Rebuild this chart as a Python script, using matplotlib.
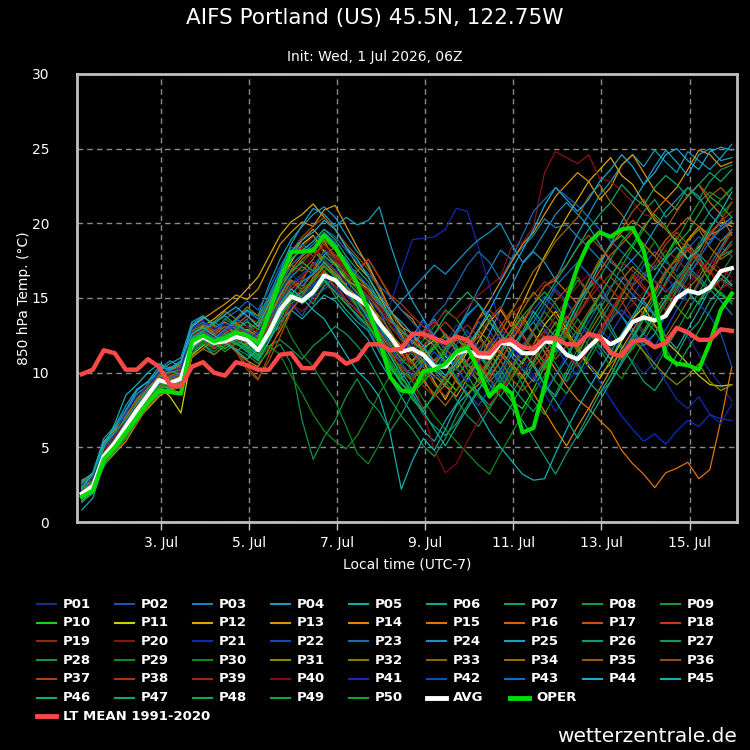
"""AIFS ensemble plume, 850 hPa temperature, Portland (US)."""
import matplotlib
matplotlib.use("Agg")
import matplotlib.pyplot as plt
import matplotlib.dates as mdates
from matplotlib.lines import Line2D
from matplotlib.ticker import FuncFormatter
import pandas as pd

# 6-hourly steps, local time (UTC-7)
TIMES = pd.date_range("2026-07-01 05:00", periods=60, freq="6h")

AVG = [1.9, 2.4, 4.4, 5.3, 6.4, 7.5, 8.5, 9.5, 9.3, 9.6,
       11.9, 12.4, 12.0, 12.1, 12.4, 12.2, 11.5, 12.7, 14.2, 15.1,
       14.8, 15.4, 16.5, 16.2, 15.4, 15.0, 14.4, 13.3, 12.4, 11.4,
       11.6, 11.2, 10.4, 10.4, 11.3, 11.5, 11.1, 11.0, 12.0, 11.9,
       11.3, 11.3, 12.1, 12.0, 11.2, 10.9, 11.7, 12.4, 11.9, 12.3,
       13.4, 13.7, 13.5, 13.8, 15.0, 15.5, 15.3, 15.7, 16.8, 17.0]

OPER = [1.7, 2.1, 4.2, 5.0, 6.0, 7.0, 8.0, 8.8, 8.7, 8.6,
        12.1, 12.5, 12.1, 12.3, 12.7, 12.5, 12.0, 14.0, 16.2, 18.1,
        18.1, 18.2, 19.2, 18.4, 17.2, 16.0, 14.2, 12.2, 9.7, 8.8,
        8.7, 10.1, 10.2, 10.6, 11.4, 11.7, 10.2, 8.4, 9.2, 8.6,
        6.0, 6.3, 9.1, 12.2, 14.9, 17.1, 18.7, 19.4, 19.1, 19.6,
        19.7, 18.2, 14.9, 11.1, 10.6, 10.5, 10.2, 12.0, 14.2, 15.3]

LT_MEAN = [9.9, 10.2, 11.5, 11.3, 10.2, 10.2, 10.9, 10.4, 9.2, 9.1,
           10.4, 10.7, 10.0, 9.8, 10.7, 10.5, 10.2, 10.2, 11.2, 11.3,
           10.3, 10.3, 11.3, 11.2, 10.6, 10.9, 11.9, 11.9, 11.5, 11.6,
           12.6, 12.6, 12.3, 12.0, 12.4, 12.2, 11.3, 11.3, 12.1, 12.2,
           11.7, 11.6, 12.3, 12.3, 11.9, 11.9, 12.6, 12.4, 11.3, 11.1,
           12.1, 12.2, 11.7, 12.0, 13.0, 12.7, 12.2, 12.2, 12.9, 12.8]

P01 = [2.2, 2.8, 4.6, 5.4, 6.9, 7.8, 8.6, 9.9, 9.4, 10.1,
       12.3, 12.6, 12.2, 12.8, 12.1, 11.9, 12.4, 13.5, 15.2, 15.8,
       16.4, 15.9, 17.3, 16.8, 15.2, 14.6, 13.9, 13.1, 12.2, 11.0,
       10.6, 11.8, 12.4, 11.9, 13.2, 12.8, 11.4, 10.3, 9.6, 10.8,
       11.9, 12.6, 11.3, 10.2, 9.4, 10.1, 11.6, 12.9, 12.2, 11.5,
       10.8, 9.9, 10.7, 11.8, 13.1, 12.4, 11.2, 10.1, 9.2, 8.1]
P02 = [1.8, 2.3, 4.1, 5.6, 6.2, 7.3, 8.9, 9.2, 9.8, 9.4,
       11.6, 12.1, 12.9, 12.4, 13.1, 12.6, 11.8, 12.2, 13.9, 14.6,
       13.8, 15.1, 15.6, 16.2, 14.8, 13.7, 12.9, 11.6, 10.4, 9.2,
       8.6, 9.8, 10.9, 11.6, 10.8, 12.2, 13.4, 12.8, 11.6, 12.4,
       13.6, 14.2, 15.1, 14.3, 13.2, 12.1, 13.4, 14.6, 15.8, 16.4,
       15.9, 17.2, 18.1, 17.4, 16.8, 18.3, 19.1, 18.6, 19.8, 20.4]
P03 = [2.5, 3.1, 5.2, 6.1, 7.2, 8.1, 9.3, 9.8, 10.2, 9.9,
       12.8, 13.1, 12.6, 13.4, 12.9, 13.6, 12.2, 14.1, 15.8, 17.2,
       17.9, 18.6, 19.4, 18.7, 17.2, 16.1, 15.4, 14.2, 12.6, 11.8,
       12.4, 13.6, 12.1, 11.2, 12.8, 14.1, 15.6, 16.9, 18.2, 17.6,
       18.4, 19.2, 20.3, 19.7, 19.9, 19.1, 18.4, 17.6, 16.8, 16.1,
       15.2, 14.6, 13.8, 14.9, 16.2, 17.1, 16.4, 15.6, 14.8, 13.9]
P04 = [2.0, 2.6, 4.8, 5.9, 7.4, 8.6, 9.1, 10.2, 10.8, 10.4,
       13.2, 13.8, 13.1, 12.7, 13.5, 14.2, 13.8, 15.9, 17.6, 18.9,
       19.8, 20.6, 21.1, 20.4, 19.2, 18.1, 17.3, 15.6, 14.1, 13.2,
       11.9, 12.8, 13.6, 12.4, 11.6, 10.4, 11.2, 12.6, 14.2, 15.8,
       17.3, 18.1, 17.4, 16.2, 17.8, 19.3, 20.6, 21.9, 22.8, 23.9,
       24.6, 23.8, 24.9, 24.1, 23.4, 24.8, 24.2, 23.6, 24.4, 25.3]
P05 = [0.8, 1.6, 3.9, 5.1, 6.0, 7.1, 8.2, 9.0, 9.1, 9.3,
       11.4, 11.9, 11.2, 11.8, 12.3, 11.6, 10.9, 12.1, 13.4, 14.2,
       13.6, 14.4, 15.2, 14.8, 13.9, 13.1, 12.2, 10.8, 9.6, 8.4,
       7.2, 6.1, 5.4, 6.8, 7.9, 9.2, 8.6, 7.8, 8.9, 10.2,
       11.4, 10.6, 9.2, 8.4, 9.8, 11.2, 12.6, 11.8, 10.9, 12.3,
       13.6, 14.8, 13.9, 12.4, 11.6, 12.9, 14.2, 15.6, 16.3, 15.8]
P06 = [1.4, 2.1, 4.3, 5.2, 6.8, 7.9, 8.8, 9.6, 9.2, 9.8,
       12.1, 12.8, 12.4, 12.0, 12.6, 12.9, 12.1, 13.6, 15.1, 16.4,
       17.1, 16.6, 17.8, 17.2, 16.1, 15.3, 14.6, 13.2, 11.4, 10.1,
       8.9, 7.6, 8.4, 9.6, 10.8, 11.9, 10.6, 9.4, 10.2, 11.6,
       12.8, 14.1, 13.2, 12.4, 11.1, 12.6, 13.9, 15.2, 14.6, 13.8,
       12.9, 11.8, 12.6, 14.1, 15.6, 16.8, 17.9, 17.2, 18.4, 19.6]
P07 = [2.4, 2.9, 4.2, 5.0, 6.1, 7.0, 8.1, 8.9, 9.1, 9.5,
       11.8, 12.2, 11.6, 12.1, 11.4, 12.0, 11.2, 12.4, 13.1, 14.6,
       15.2, 15.8, 16.4, 15.1, 14.2, 13.4, 12.8, 11.4, 10.2, 9.6,
       10.4, 11.2, 10.1, 9.2, 10.6, 11.8, 12.6, 11.4, 10.2, 9.1,
       8.2, 7.4, 8.6, 9.8, 10.9, 12.4, 13.8, 14.6, 13.1, 11.8,
       10.6, 9.4, 8.8, 9.9, 11.2, 12.6, 13.4, 14.8, 15.6, 16.9]
P08 = [1.6, 2.2, 4.4, 5.3, 6.3, 7.4, 8.3, 9.2, 9.6, 9.2,
       12.2, 12.6, 11.9, 12.4, 12.8, 12.3, 11.6, 11.8, 12.2, 11.6,
       10.9, 11.8, 12.4, 13.1, 12.6, 11.8, 10.9, 9.6, 8.2, 7.1,
       6.2, 5.1, 4.4, 5.6, 7.1, 8.4, 9.6, 10.8, 9.7, 8.6,
       9.8, 11.2, 12.6, 13.8, 14.9, 16.2, 15.4, 14.1, 12.8, 11.6,
       12.4, 13.9, 15.1, 16.6, 17.8, 18.9, 19.6, 20.8, 21.6, 22.4]
P09 = [2.1, 2.7, 4.9, 5.8, 6.6, 7.7, 8.7, 9.4, 9.9, 10.3,
       12.6, 13.2, 12.8, 13.6, 13.1, 12.4, 11.9, 13.2, 14.8, 16.1,
       15.6, 16.9, 18.2, 17.6, 16.4, 15.2, 14.1, 12.9, 11.6, 10.6,
       11.4, 12.2, 13.1, 14.2, 13.6, 12.4, 11.2, 10.1, 9.4, 10.6,
       9.2, 8.1, 7.2, 8.6, 10.1, 11.6, 12.9, 14.2, 15.6, 17.1,
       18.4, 19.6, 18.8, 17.6, 18.9, 20.2, 21.4, 22.1, 21.6, 22.3]
P10 = [1.9, 2.5, 4.0, 5.1, 6.4, 7.2, 8.4, 9.1, 9.0, 9.4,
       11.7, 12.3, 12.1, 11.6, 12.2, 11.8, 11.1, 12.6, 14.1, 15.3,
       14.9, 15.6, 16.8, 16.1, 15.4, 14.6, 13.8, 12.1, 10.4, 9.3,
       8.6, 9.4, 10.2, 9.6, 8.8, 9.9, 11.2, 10.4, 9.2, 8.1,
       7.6, 8.9, 10.4, 11.9, 13.1, 14.6, 16.2, 17.4, 18.6, 19.2,
       18.4, 17.6, 16.9, 17.8, 19.1, 18.2, 17.4, 16.1, 15.2, 14.8]
P11 = [2.6, 3.0, 4.7, 5.8, 6.9, 7.6, 8.8, 9.1, 8.4, 7.3,
       11.2, 11.8, 12.4, 13.1, 12.6, 12.9, 12.4, 14.2, 16.1, 17.4,
       18.6, 19.2, 18.1, 17.3, 16.2, 15.8, 14.9, 13.6, 12.1, 11.2,
       10.8, 11.6, 12.2, 11.1, 10.2, 11.4, 12.8, 13.9, 12.6, 11.4,
       10.6, 11.9, 13.2, 14.1, 12.9, 11.6, 10.4, 9.6, 10.8, 12.1,
       13.6, 14.4, 13.2, 12.1, 11.4, 10.6, 9.8, 9.2, 9.1, 9.2]
P12 = [2.3, 2.8, 4.3, 5.0, 5.9, 6.8, 7.6, 8.4, 8.9, 9.1,
       12.4, 13.1, 13.6, 14.2, 14.8, 15.6, 16.4, 17.8, 19.2, 20.1,
       20.6, 21.3, 20.4, 19.6, 18.4, 17.2, 16.4, 15.1, 13.8, 12.4,
       11.6, 10.8, 9.4, 8.2, 9.6, 10.8, 12.1, 13.4, 14.2, 13.1,
       14.6, 16.2, 17.8, 19.1, 20.4, 21.6, 22.8, 23.6, 24.4, 23.2,
       22.6, 21.4, 20.2, 19.6, 18.8, 17.6, 18.4, 19.2, 20.1, 19.8]
P13 = [1.7, 2.4, 4.6, 5.7, 6.6, 7.9, 9.0, 9.7, 10.1, 10.6,
       13.1, 13.6, 14.1, 14.6, 15.2, 14.9, 15.6, 17.1, 18.6, 19.4,
       20.1, 19.8, 20.9, 21.2, 19.8, 18.4, 17.1, 15.8, 14.2, 13.1,
       12.6, 11.4, 10.2, 9.6, 10.9, 12.2, 13.6, 14.8, 16.1, 17.4,
       18.6, 19.4, 20.6, 21.8, 22.6, 23.4, 22.8, 21.6, 22.4, 23.9,
       24.6, 23.4, 22.2, 21.6, 22.4, 23.6, 24.9, 24.6, 23.8, 24.1]
P14 = [2.0, 2.2, 3.8, 4.6, 5.4, 6.6, 7.9, 8.8, 9.6, 9.8,
       12.0, 12.4, 11.8, 12.6, 13.2, 13.8, 13.1, 14.6, 16.2, 17.8,
       18.9, 19.6, 18.8, 17.6, 16.8, 16.1, 15.6, 14.8, 13.6, 12.6,
       11.2, 10.4, 9.8, 9.1, 8.4, 9.6, 10.8, 12.1, 11.4, 10.6,
       9.8, 8.6, 7.4, 6.2, 5.1, 6.4, 7.6, 8.9, 10.2, 11.6,
       12.8, 14.1, 15.4, 16.8, 17.6, 18.9, 19.8, 19.2, 19.6, 20.1]
P15 = [2.8, 3.2, 5.4, 6.2, 7.1, 8.2, 8.9, 9.6, 10.4, 10.1,
       12.9, 13.4, 12.6, 12.2, 11.4, 10.8, 10.4, 11.6, 12.8, 14.2,
       15.1, 16.4, 17.1, 16.6, 15.9, 16.8, 17.6, 16.4, 15.1, 14.2,
       13.6, 12.4, 11.8, 10.6, 9.4, 8.6, 9.2, 10.1, 11.4, 12.6,
       13.8, 12.6, 11.4, 10.2, 9.1, 8.2, 7.6, 6.8, 6.1, 4.8,
       3.9, 3.2, 2.3, 3.3, 3.6, 4.0, 2.9, 3.5, 6.8, 10.4]
P16 = [1.5, 2.0, 4.1, 5.4, 6.7, 7.6, 8.6, 9.3, 9.2, 9.7,
       11.9, 12.2, 12.8, 13.4, 12.6, 11.9, 12.6, 13.8, 15.4, 16.9,
       17.8, 18.4, 17.6, 16.9, 15.8, 15.1, 14.2, 13.4, 12.6, 11.8,
       12.4, 11.6, 10.8, 11.4, 12.2, 11.6, 10.4, 9.6, 10.8, 12.1,
       13.4, 14.6, 15.8, 16.2, 15.4, 14.6, 15.8, 17.2, 18.6, 19.4,
       20.2, 19.6, 20.8, 21.6, 20.9, 21.8, 22.6, 21.4, 20.6, 19.2]
P17 = [2.2, 2.7, 4.5, 5.2, 6.5, 7.3, 8.2, 9.5, 9.8, 10.2,
       12.5, 12.9, 12.2, 11.9, 12.4, 12.8, 11.6, 12.9, 14.4, 15.6,
       16.2, 17.4, 16.8, 15.6, 14.8, 14.2, 13.6, 12.8, 11.4, 10.2,
       9.4, 10.6, 11.8, 12.6, 11.8, 10.6, 9.8, 10.9, 12.2, 13.4,
       12.6, 11.4, 10.2, 11.6, 12.8, 14.2, 15.6, 16.8, 17.9, 18.6,
       19.4, 18.6, 17.8, 18.9, 19.6, 20.4, 19.8, 18.9, 19.6, 20.2]
P18 = [1.9, 2.4, 4.2, 5.5, 6.2, 7.7, 8.5, 9.0, 9.4, 9.6,
       12.2, 12.7, 13.2, 12.6, 13.4, 12.8, 12.2, 13.4, 14.9, 16.2,
       15.4, 16.1, 17.4, 16.6, 15.2, 14.4, 13.2, 12.1, 11.2, 10.8,
       11.6, 12.8, 13.4, 12.6, 11.4, 12.2, 13.6, 14.2, 13.4, 12.2,
       11.6, 10.4, 11.2, 12.6, 13.8, 12.9, 11.8, 12.6, 13.9, 15.2,
       16.4, 15.6, 14.8, 15.9, 17.2, 18.4, 17.6, 16.8, 18.2, 19.4]
P19 = [2.3, 2.9, 4.9, 5.6, 6.3, 7.1, 8.0, 9.2, 9.7, 10.0,
       12.4, 12.0, 12.7, 13.3, 12.8, 13.4, 12.9, 14.4, 16.6, 17.9,
       18.4, 19.1, 18.6, 17.8, 16.9, 16.1, 15.4, 14.6, 13.4, 12.9,
       12.2, 11.4, 10.6, 11.8, 12.6, 13.2, 12.4, 11.2, 12.8, 13.9,
       14.6, 15.2, 16.1, 15.4, 14.6, 13.8, 14.9, 15.8, 16.6, 17.4,
       16.8, 16.2, 17.1, 18.2, 17.6, 16.8, 16.1, 15.4, 16.2, 17.1]
P20 = [2.0, 2.6, 4.4, 5.1, 6.0, 7.4, 8.4, 9.4, 9.5, 9.9,
       11.6, 12.1, 11.7, 12.2, 11.8, 12.4, 11.4, 12.6, 13.8, 14.6,
       14.1, 14.8, 15.9, 15.4, 14.6, 13.9, 13.1, 12.4, 11.6, 10.9,
       11.4, 12.6, 13.2, 14.1, 13.6, 14.4, 15.2, 15.8, 16.4, 18.4,
       18.7, 19.8, 23.4, 24.8, 24.4, 24.0, 24.6, 23.0, 22.8, 22.2,
       21.4, 20.6, 20.4, 19.6, 19.1, 18.2, 17.4, 16.8, 16.2, 15.6]
P21 = [1.8, 2.3, 4.0, 5.3, 6.4, 7.5, 8.6, 9.3, 9.0, 9.5,
       11.4, 12.0, 12.3, 11.8, 12.6, 12.1, 11.6, 12.8, 13.6, 14.4,
       15.0, 15.8, 16.4, 15.6, 14.9, 14.2, 13.6, 13.4, 14.6, 16.8,
       18.9, 19.0, 19.1, 19.6, 21.0, 20.8, 18.4, 15.8, 13.1, 11.6,
       10.4, 9.6, 8.8, 9.9, 11.2, 10.6, 9.4, 8.6, 9.8, 11.4,
       12.6, 11.8, 10.6, 9.4, 8.2, 7.6, 8.4, 7.2, 6.6, 7.9]
P22 = [2.4, 2.9, 4.6, 5.9, 6.8, 7.6, 8.9, 9.8, 10.0, 9.7,
       12.7, 13.3, 12.9, 12.4, 12.1, 12.8, 12.4, 13.2, 14.6, 15.9,
       16.6, 17.2, 18.1, 17.4, 16.6, 15.8, 14.9, 14.1, 13.2, 12.4,
       11.2, 10.4, 9.6, 10.8, 11.9, 12.8, 11.6, 10.4, 9.2, 10.4,
       11.8, 12.9, 14.2, 15.6, 14.8, 13.6, 12.4, 11.2, 12.6, 13.8,
       15.1, 16.4, 17.2, 16.4, 15.6, 14.8, 15.9, 17.2, 18.4, 17.8]
P23 = [1.5, 2.2, 4.7, 5.6, 6.7, 8.0, 9.2, 9.9, 10.3, 10.6,
       13.0, 13.4, 12.8, 13.6, 14.1, 14.8, 14.2, 15.6, 17.1, 18.4,
       18.1, 18.8, 19.6, 19.1, 18.2, 17.4, 16.6, 15.8, 15.1, 14.2,
       13.4, 12.6, 13.8, 14.6, 15.9, 17.2, 18.1, 17.4, 16.2, 17.6,
       19.2, 20.8, 21.6, 22.4, 21.8, 21.2, 20.4, 19.6, 18.8, 18.1,
       17.4, 16.6, 16.1, 15.4, 16.2, 17.4, 18.6, 19.4, 18.8, 19.6]
P24 = [2.1, 2.6, 4.4, 5.4, 6.6, 7.4, 8.2, 9.6, 9.9, 10.4,
       12.3, 12.8, 13.4, 12.9, 13.6, 13.1, 12.6, 13.9, 15.6, 16.8,
       17.4, 16.8, 17.9, 18.4, 17.6, 16.4, 15.8, 14.6, 13.9, 14.8,
       15.6, 16.4, 17.2, 16.6, 17.4, 18.2, 18.9, 19.4, 20.0, 18.6,
       17.4, 18.2, 19.4, 20.6, 21.4, 20.6, 19.8, 18.6, 17.4, 16.8,
       17.6, 18.4, 19.6, 20.8, 21.6, 22.4, 21.8, 20.6, 19.8, 20.4]
P25 = [2.7, 3.3, 5.6, 6.4, 7.8, 8.9, 9.4, 10.1, 10.6, 11.0,
       13.4, 13.8, 13.2, 12.8, 13.6, 14.2, 13.6, 15.2, 16.8, 18.6,
       19.9, 21.0, 20.6, 19.8, 20.4, 19.9, 20.2, 21.1, 18.6, 16.4,
       14.8, 13.6, 12.4, 11.6, 12.8, 13.9, 14.6, 13.4, 12.2, 11.1,
       10.2, 9.4, 10.6, 11.8, 13.2, 14.6, 15.8, 17.2, 18.6, 20.1,
       21.4, 22.6, 23.8, 24.9, 24.1, 23.2, 24.6, 25.0, 24.2, 24.4]
P26 = [1.7, 2.3, 4.3, 5.0, 6.2, 7.2, 8.4, 9.1, 9.3, 9.8,
       12.0, 12.5, 12.1, 12.6, 12.2, 11.7, 11.2, 12.4, 13.6, 14.9,
       15.4, 14.6, 15.8, 16.4, 15.6, 14.8, 13.9, 12.6, 11.2, 9.8,
       8.4, 7.2, 6.4, 5.8, 6.6, 7.8, 8.9, 9.6, 8.4, 7.6,
       6.8, 5.6, 4.4, 3.2, 4.6, 5.8, 7.2, 8.6, 9.4, 10.8,
       12.2, 13.6, 14.8, 16.1, 17.4, 18.6, 17.8, 16.6, 17.9, 18.8]
P27 = [2.2, 2.5, 4.1, 5.2, 6.0, 7.0, 8.1, 8.8, 9.3, 9.6,
       11.5, 12.0, 12.6, 12.3, 12.9, 12.4, 11.9, 13.1, 14.2, 15.1,
       14.6, 15.2, 16.1, 15.4, 14.6, 13.8, 13.1, 12.2, 11.1, 10.4,
       9.6, 10.8, 11.6, 12.4, 11.8, 10.6, 9.4, 8.6, 9.8, 11.2,
       12.6, 13.4, 12.2, 11.4, 12.6, 14.2, 15.6, 16.4, 17.6, 18.8,
       19.6, 20.8, 21.6, 20.4, 21.2, 22.4, 21.6, 22.8, 23.6, 23.9]
P28 = [1.3, 2.0, 3.7, 4.9, 5.8, 6.9, 7.8, 8.6, 9.0, 9.2,
       11.3, 11.9, 11.4, 12.0, 11.6, 11.2, 10.6, 11.4, 11.9, 10.6,
       6.8, 4.2, 5.7, 6.8, 8.4, 9.6, 8.2, 7.4, 6.1, 7.2,
       8.6, 9.8, 10.6, 9.4, 8.2, 7.1, 6.4, 7.6, 8.8, 10.2,
       11.4, 12.6, 11.8, 10.6, 9.4, 10.8, 12.2, 13.4, 14.6, 13.8,
       12.6, 11.4, 10.2, 11.6, 12.8, 14.1, 15.4, 16.6, 17.8, 18.2]
P29 = [2.5, 3.0, 4.8, 5.7, 6.5, 7.6, 8.6, 9.2, 9.6, 10.0,
       12.1, 12.7, 12.3, 12.9, 13.3, 12.7, 12.0, 13.3, 14.0, 12.4,
       11.2, 10.4, 9.2, 8.1, 6.4, 4.6, 3.9, 5.2, 6.8, 8.4,
       9.6, 10.8, 12.1, 11.2, 10.4, 9.2, 8.4, 7.6, 8.8, 10.1,
       11.6, 12.8, 14.1, 13.2, 12.4, 11.6, 10.8, 12.1, 13.6, 15.1,
       16.4, 17.6, 18.8, 17.6, 16.4, 17.2, 18.6, 19.8, 20.6, 21.4]
P30 = [1.6, 2.1, 4.0, 5.0, 5.9, 7.0, 8.0, 8.7, 9.0, 9.3,
       11.5, 12.0, 11.6, 12.2, 11.9, 11.5, 10.8, 11.8, 11.2, 9.8,
       8.6, 7.2, 6.1, 5.4, 4.9, 5.8, 7.1, 8.6, 9.8, 10.6,
       9.4, 8.2, 7.1, 6.2, 5.4, 4.6, 3.8, 3.2, 4.6, 5.9,
       7.2, 8.6, 9.8, 11.2, 12.4, 13.6, 12.8, 11.6, 10.4, 9.6,
       10.8, 12.1, 13.4, 14.6, 15.8, 16.9, 16.2, 15.4, 16.6, 17.8]
P31 = [2.1, 2.6, 4.3, 5.4, 6.3, 7.2, 8.4, 9.3, 8.9, 8.6,
       11.0, 11.6, 12.2, 12.8, 13.4, 12.6, 12.1, 13.6, 15.2, 16.6,
       17.6, 18.2, 17.4, 16.6, 15.8, 14.9, 14.2, 13.4, 12.6, 11.6,
       10.8, 9.6, 8.4, 9.2, 10.4, 11.6, 12.8, 12.1, 11.2, 10.4,
       9.6, 10.8, 12.2, 13.4, 12.6, 11.8, 10.6, 9.8, 10.6, 11.4,
       12.2, 11.4, 10.6, 9.8, 9.2, 9.8, 10.6, 9.4, 8.8, 9.2]
P32 = [1.9, 2.7, 4.5, 5.5, 6.4, 7.3, 8.3, 9.1, 9.4, 9.8,
       12.3, 12.9, 13.4, 14.1, 13.6, 14.4, 13.8, 15.1, 16.4, 17.2,
       16.8, 17.6, 18.9, 18.2, 17.1, 16.4, 15.6, 14.4, 13.1, 12.2,
       11.4, 10.6, 11.8, 12.6, 11.4, 10.2, 9.4, 10.6, 11.8, 12.9,
       14.2, 15.4, 14.6, 13.8, 12.6, 11.4, 12.6, 13.8, 14.9, 16.2,
       17.1, 16.4, 15.6, 16.8, 17.6, 18.8, 19.6, 18.4, 17.6, 18.1]
P33 = [2.6, 3.1, 4.9, 6.0, 7.0, 8.3, 9.2, 9.9, 9.7, 10.2,
       12.8, 13.2, 12.6, 13.1, 12.7, 12.2, 12.9, 14.2, 15.9, 16.8,
       17.4, 18.1, 17.6, 16.8, 16.2, 15.4, 14.6, 13.8, 12.8, 11.6,
       10.6, 9.8, 10.6, 11.4, 12.4, 11.6, 10.8, 11.9, 13.1, 14.2,
       13.4, 12.6, 11.8, 10.9, 11.8, 12.9, 14.1, 15.2, 16.4, 15.6,
       14.8, 13.9, 13.1, 12.4, 13.6, 14.8, 16.1, 17.2, 16.6, 15.9]
P34 = [2.2, 2.4, 3.9, 4.8, 5.7, 6.6, 7.7, 8.5, 8.8, 9.0,
       11.1, 11.6, 11.2, 11.8, 12.3, 12.8, 12.4, 13.8, 15.4, 16.2,
       15.8, 16.6, 17.2, 16.4, 15.6, 15.1, 14.4, 13.6, 12.4, 11.4,
       10.2, 9.4, 8.6, 7.8, 8.8, 9.9, 10.8, 11.6, 12.6, 14.1,
       15.4, 16.8, 17.6, 18.8, 19.6, 20.4, 21.8, 22.6, 21.4, 20.6,
       19.4, 18.6, 17.8, 16.9, 16.2, 15.6, 16.4, 17.6, 18.8, 19.4]
P35 = [1.8, 2.4, 4.7, 5.8, 7.0, 8.1, 9.0, 9.8, 10.0, 10.5,
       12.6, 13.0, 12.5, 12.1, 11.6, 10.4, 9.6, 10.8, 12.4, 14.1,
       15.2, 16.1, 16.8, 17.4, 16.6, 15.9, 15.1, 14.2, 13.4, 12.8,
       12.2, 11.4, 10.6, 9.8, 10.6, 11.8, 12.4, 11.6, 10.8, 9.6,
       8.8, 9.6, 10.8, 12.2, 13.6, 14.8, 16.2, 17.6, 18.4, 19.6,
       20.8, 21.6, 20.4, 19.6, 20.8, 21.9, 22.6, 21.8, 22.4, 21.6]
P36 = [2.4, 2.8, 4.4, 5.3, 6.1, 7.1, 8.0, 8.9, 9.2, 9.3,
       11.9, 12.4, 12.9, 12.4, 13.0, 12.6, 13.2, 14.6, 16.4, 18.1,
       19.1, 19.8, 20.4, 19.6, 18.6, 17.8, 16.9, 15.6, 14.1, 12.8,
       11.6, 10.4, 9.2, 8.4, 9.6, 10.8, 11.6, 12.4, 11.2, 10.4,
       11.6, 12.8, 13.6, 14.8, 15.6, 16.4, 15.4, 14.2, 13.4, 14.6,
       15.8, 16.6, 17.4, 18.6, 19.4, 18.6, 17.8, 19.2, 20.2, 21.4]
P37 = [2.0, 2.5, 4.2, 5.0, 6.6, 7.7, 8.7, 9.5, 9.7, 9.6,
       12.0, 12.3, 11.6, 12.1, 11.4, 10.2, 9.5, 11.2, 13.1, 14.8,
       15.6, 16.2, 17.1, 16.4, 15.6, 14.8, 13.9, 12.6, 11.8, 11.2,
       10.6, 11.8, 12.6, 13.4, 12.6, 11.8, 10.6, 9.8, 10.8, 12.1,
       13.2, 14.6, 15.8, 16.4, 17.2, 18.4, 19.2, 18.4, 17.6, 16.8,
       15.6, 14.8, 15.6, 16.8, 17.6, 18.2, 17.4, 16.6, 17.8, 18.6]
P38 = [2.3, 2.7, 4.6, 5.4, 6.4, 7.5, 8.8, 9.7, 9.5, 9.9,
       12.2, 12.6, 13.1, 12.7, 13.2, 13.8, 13.3, 14.8, 16.2, 17.6,
       18.4, 17.8, 18.6, 17.9, 17.1, 16.8, 17.6, 16.4, 15.2, 14.6,
       13.8, 13.1, 12.4, 11.6, 10.8, 11.6, 12.4, 13.6, 14.4, 13.2,
       12.4, 11.6, 10.8, 11.6, 12.8, 13.9, 15.1, 16.4, 15.6, 14.8,
       13.6, 12.8, 13.6, 14.8, 15.9, 17.1, 18.2, 19.4, 20.1, 20.8]
P39 = [1.7, 2.2, 4.0, 5.1, 6.0, 7.3, 8.2, 9.2, 9.1, 9.4,
       11.8, 12.1, 11.9, 12.5, 12.0, 12.6, 11.9, 13.1, 14.6, 15.8,
       16.4, 17.2, 16.6, 15.8, 14.9, 14.1, 13.4, 12.4, 11.2, 10.4,
       9.8, 9.1, 8.4, 9.6, 10.8, 11.6, 10.8, 9.6, 8.8, 9.8,
       10.8, 11.9, 12.8, 12.1, 11.2, 10.4, 11.6, 12.8, 14.1, 15.4,
       16.6, 15.8, 14.9, 14.2, 15.4, 16.6, 17.4, 16.8, 15.6, 16.2]
P40 = [2.1, 2.8, 4.8, 5.7, 6.9, 7.8, 8.6, 9.4, 9.9, 10.1,
       12.5, 12.9, 12.4, 13.0, 12.5, 13.1, 12.7, 14.1, 15.6, 16.6,
       17.2, 17.8, 18.4, 17.6, 16.8, 15.9, 15.2, 14.4, 13.2, 12.1,
       9.6, 7.4, 4.8, 3.3, 3.9, 5.4, 6.8, 7.9, 8.8, 9.6,
       10.4, 11.2, 12.6, 13.8, 14.9, 15.8, 16.6, 15.4, 14.6, 13.8,
       14.6, 15.4, 16.2, 15.6, 14.8, 15.9, 16.8, 17.6, 16.9, 16.4]
P41 = [2.5, 3.0, 5.0, 5.9, 7.3, 8.4, 9.1, 10.0, 10.1, 10.3,
       12.9, 13.5, 12.9, 13.3, 12.8, 12.3, 12.6, 14.0, 15.4, 16.6,
       15.9, 16.8, 17.6, 16.9, 16.1, 15.2, 14.4, 13.2, 12.1, 11.4,
       12.2, 13.4, 12.6, 11.4, 10.2, 9.4, 10.6, 11.8, 12.6, 11.8,
       10.9, 9.8, 8.6, 7.4, 8.6, 9.8, 10.6, 9.4, 8.2, 7.1,
       6.2, 5.4, 5.9, 5.2, 6.1, 6.8, 6.4, 7.2, 6.9, 6.8]
P42 = [1.6, 2.3, 4.4, 5.5, 6.5, 7.5, 8.5, 9.5, 9.2, 9.7,
       12.1, 12.6, 12.2, 12.8, 13.2, 12.7, 12.3, 13.6, 14.8, 15.6,
       15.1, 15.9, 16.6, 16.1, 15.2, 14.6, 13.8, 12.9, 11.8, 10.6,
       9.8, 10.6, 11.4, 10.6, 9.8, 8.6, 7.8, 8.9, 10.1, 11.4,
       12.6, 13.8, 12.9, 11.8, 10.6, 9.8, 11.2, 12.4, 13.6, 14.2,
       13.4, 12.6, 11.8, 12.9, 14.2, 15.4, 14.6, 13.8, 12.6, 10.4]
P43 = [2.0, 2.5, 4.2, 5.1, 6.3, 7.4, 8.3, 9.3, 9.6, 10.0,
       12.4, 12.8, 12.3, 12.9, 13.5, 14.1, 13.6, 15.1, 16.8, 17.9,
       18.6, 18.1, 19.2, 18.6, 17.4, 16.6, 15.8, 14.9, 13.6, 12.4,
       11.6, 10.8, 10.1, 11.2, 12.6, 13.8, 14.6, 13.8, 12.6, 11.8,
       12.6, 13.4, 14.6, 15.8, 16.6, 17.4, 16.6, 15.8, 14.6, 13.8,
       12.6, 11.8, 12.6, 13.8, 15.1, 16.4, 17.6, 18.8, 19.6, 20.2]
P44 = [2.3, 3.2, 5.3, 6.3, 7.5, 8.8, 9.4, 10.4, 10.2, 10.7,
       13.1, 13.7, 13.3, 13.9, 14.4, 13.8, 13.1, 14.6, 16.6, 18.1,
       18.9, 19.4, 20.2, 19.6, 18.4, 17.6, 16.4, 15.2, 14.1, 13.4,
       12.6, 11.8, 10.6, 9.8, 10.6, 11.8, 12.9, 14.2, 15.6, 16.9,
       18.2, 19.6, 21.2, 22.4, 21.6, 20.8, 21.6, 22.8, 23.6, 24.6,
       23.8, 22.6, 23.4, 24.6, 25.0, 24.2, 23.6, 24.8, 25.1, 24.9]
P45 = [1.8, 2.5, 5.0, 6.6, 8.5, 9.2, 10.0, 10.6, 10.3, 10.8,
       12.6, 13.0, 12.5, 12.0, 11.5, 10.9, 11.6, 12.9, 14.6, 15.6,
       15.0, 14.2, 13.6, 12.4, 11.2, 10.1, 9.4, 8.4, 5.9, 2.2,
       4.1, 5.6, 4.8, 6.2, 7.8, 8.6, 7.4, 6.1, 5.0, 4.1,
       3.2, 2.8, 2.9, 4.6, 6.2, 7.6, 8.9, 10.2, 11.4, 12.6,
       13.8, 15.1, 16.4, 17.6, 18.4, 17.6, 18.2, 19.6, 20.8, 22.1]
P46 = [2.2, 2.6, 4.5, 5.4, 6.1, 7.0, 7.9, 8.6, 9.0, 9.4,
       11.6, 12.2, 11.8, 12.4, 12.0, 11.4, 10.8, 12.1, 13.8, 15.2,
       16.1, 16.6, 17.4, 16.6, 15.8, 14.8, 13.6, 12.4, 11.1, 9.8,
       8.6, 7.4, 6.2, 5.1, 6.4, 7.6, 8.8, 10.1, 11.2, 12.4,
       11.6, 10.4, 9.2, 8.1, 6.9, 5.6, 6.8, 8.1, 9.4, 10.6,
       11.8, 12.6, 13.8, 14.9, 16.1, 15.4, 14.6, 15.8, 16.6, 15.9]
P47 = [2.6, 3.2, 5.1, 6.0, 6.9, 7.9, 8.9, 9.7, 10.1, 9.9,
       12.3, 12.8, 13.3, 13.8, 13.2, 12.8, 13.4, 14.9, 16.4, 17.6,
       18.2, 18.8, 19.6, 18.9, 17.8, 16.9, 16.1, 14.8, 13.6, 12.8,
       12.1, 11.4, 12.6, 13.8, 14.6, 15.4, 14.6, 13.4, 12.6, 11.8,
       12.6, 13.8, 14.9, 16.1, 17.2, 18.4, 19.6, 20.6, 21.4, 22.6,
       21.8, 21.2, 22.4, 23.2, 22.6, 21.8, 22.6, 23.4, 22.8, 23.6]
P48 = [1.4, 1.9, 3.8, 4.7, 5.6, 6.8, 7.8, 8.8, 9.2, 9.5,
       11.7, 12.2, 11.8, 12.3, 11.9, 12.3, 11.8, 12.9, 14.4, 15.4,
       14.8, 15.6, 16.2, 15.4, 14.6, 13.9, 13.1, 11.9, 10.6, 9.4,
       8.2, 7.4, 8.6, 9.8, 10.9, 9.8, 8.6, 7.4, 6.6, 7.8,
       9.2, 10.6, 11.8, 12.9, 11.8, 10.6, 9.4, 8.6, 9.8, 11.2,
       12.4, 13.6, 12.8, 11.6, 10.4, 11.6, 12.8, 14.1, 15.4, 14.6]
P49 = [2.4, 2.7, 4.3, 5.5, 6.4, 7.5, 8.3, 9.1, 9.5, 9.6,
       12.0, 12.5, 12.0, 12.5, 12.9, 13.4, 12.9, 14.2, 15.6, 16.8,
       17.4, 16.8, 17.8, 17.2, 16.4, 15.6, 14.6, 13.2, 11.9, 10.9,
       10.2, 10.9, 11.8, 10.8, 9.6, 8.4, 9.6, 10.8, 11.9, 12.8,
       13.8, 14.6, 15.4, 14.6, 13.4, 12.6, 13.8, 15.1, 16.4, 17.6,
       18.6, 19.8, 20.6, 19.8, 18.6, 19.4, 20.6, 21.8, 21.2, 20.4]
P50 = [1.9, 2.4, 4.6, 5.3, 6.2, 7.2, 8.1, 8.9, 9.4, 9.7,
       11.9, 12.4, 12.0, 11.4, 12.0, 11.6, 11.0, 12.4, 13.8, 14.8,
       15.4, 16.2, 17.1, 16.4, 15.6, 14.4, 13.2, 12.1, 10.8, 9.6,
       8.8, 9.6, 10.4, 11.6, 12.4, 11.6, 10.4, 9.2, 8.4, 9.6,
       10.8, 11.6, 10.6, 9.4, 8.6, 9.8, 11.2, 12.4, 11.6, 10.8,
       11.6, 12.8, 14.1, 15.2, 14.4, 13.6, 14.8, 15.9, 15.2, 14.8]

MEMBERS = [P01, P02, P03, P04, P05, P06, P07, P08, P09, P10,
           P11, P12, P13, P14, P15, P16, P17, P18, P19, P20,
           P21, P22, P23, P24, P25, P26, P27, P28, P29, P30,
           P31, P32, P33, P34, P35, P36, P37, P38, P39, P40,
           P41, P42, P43, P44, P45, P46, P47, P48, P49, P50]
NAMES = [f"P{i:02d}" for i in range(1, 51)]
COLORS = ["#1a2a90", "#1a55b0", "#1a80c0", "#1a98b8", "#10a8a8",
          "#10a888", "#10a070", "#109850", "#109830", "#10d810",
          "#d0d000", "#d8a800", "#d89400", "#e08400", "#e07400",
          "#d86010", "#d04c10", "#c83418", "#9a2418", "#881414",
          "#1428b0", "#1448b0", "#1a68b0", "#1a90c0", "#18a0c0",
          "#109878", "#109858", "#109048", "#108828", "#108818",
          "#888800", "#887800", "#886400", "#986800", "#985808",
          "#984c10", "#a84410", "#a83410", "#a82410", "#880818",
          "#0c2cc0", "#0c4cc0", "#0c70c8", "#18a8d0", "#10b0b0",
          "#10a888", "#10a868", "#10a850", "#10a838", "#10a820"]


def fx(x):
    return x / 750


def fy(y):
    return 1 - y / 750


fig = plt.figure(figsize=(7.5, 7.5), dpi=100, facecolor="black")
ax = fig.add_axes([fx(77), fy(522), 660 / 750, 448 / 750], facecolor="black")

for vals, col in zip(MEMBERS, COLORS):
    ax.plot(TIMES, vals, color=col, lw=0.9)
ax.plot(TIMES, AVG, color="white", lw=3)
ax.plot(TIMES, OPER, color="#00dd00", lw=3)
ax.plot(TIMES, LT_MEAN, color="#f84848", lw=3.2)

ax.set_xlim(TIMES[0] - pd.Timedelta(hours=2.6), TIMES[-1] + pd.Timedelta(hours=2.8))
ax.set_ylim(0, 30)
ax.set_yticks(range(0, 31, 5))
ax.xaxis.set_major_locator(mdates.DayLocator(bymonthday=[3, 5, 7, 9, 11, 13, 15]))
ax.xaxis.set_major_formatter(FuncFormatter(
    lambda v, p: f"{mdates.num2date(v).day}. {mdates.num2date(v):%b}"))
ax.set_axisbelow(True)
ax.grid(True, color="#8a8a8a", ls=(0, (4, 3)), lw=1)
ax.tick_params(axis="x", length=6, width=1, color="#c8c8d8", labelcolor="white",
               labelsize=10, pad=4)
ax.tick_params(axis="y", length=0, labelcolor="white", labelsize=10, pad=20)
for sp in ax.spines.values():
    sp.set_color("#c0c0c0")
    sp.set_linewidth(2)

fig.text(0.5, fy(18), "AIFS Portland (US) 45.5N, 122.75W", color="white",
         fontsize=15.5, ha="center", va="center")
fig.text(0.5, fy(57), "Init: Wed, 1 Jul 2026, 06Z", color="white",
         fontsize=10, ha="center", va="center")
fig.text(fx(24), fy(298), "850 hPa Temp. (°C)", color="white", fontsize=10,
         rotation=90, ha="center", va="center")
fig.text(fx(407), fy(565), "Local time (UTC-7)", color="white", fontsize=10,
         ha="center", va="center")
fig.text(fx(737), fy(736), "wetterzentrale.de", color="white", fontsize=14.5,
         ha="right", va="center")

# legend, row by row, 9 columns
entries = [(n, c, 1.5) for n, c in zip(NAMES, COLORS)]
entries += [("AVG", "white", 3.5), ("OPER", "#00dd00", 3.5)]
slots = list(range(len(entries))) + [54]
entries += [("LT MEAN 1991-2020", "#f84848", 3.5)]
for slot, (label, col, lw) in zip(slots, entries):
    r, c = divmod(slot, 9)
    x0 = 37 + 78 * c + (5 if label == "OPER" else 0)
    y = 604 + 18.7 * r
    fig.add_artist(Line2D([fx(x0), fx(x0 + 19)], [fy(y), fy(y)], color=col, lw=lw,
                          transform=fig.transFigure))
    fig.text(fx(x0 + 26), fy(y), label, color="white", fontsize=9.5,
             fontweight="bold", ha="left", va="center")

fig.savefig("out.png", dpi=100, facecolor="black")
